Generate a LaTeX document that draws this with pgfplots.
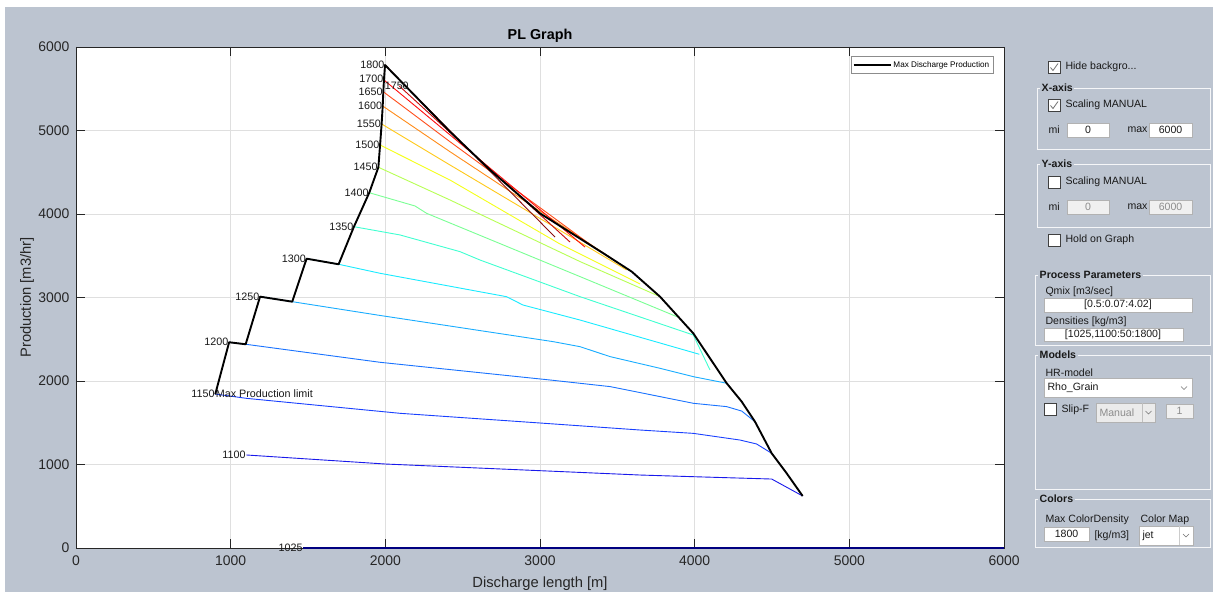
\documentclass[border=0pt]{standalone}
\usepackage{fontspec}
\setmainfont{Liberation Sans}
\usepackage{pgfplots}
\pgfplotsset{compat=1.18}

\definecolor{figbg}{RGB}{188,196,208}
\definecolor{axgray}{RGB}{38,38,38}
\definecolor{gridgray}{RGB}{223,223,223}
\definecolor{dimtext}{RGB}{140,140,140}
% jet colours, colour limits 1025..1800
\definecolor{c1025}{rgb}{0,0,0.5}
\definecolor{c1100}{rgb}{0.1,0.1,0.92}
\definecolor{c1150}{rgb}{0.1,0.25,1}
\definecolor{c1200}{rgb}{0.1,0.45,1}
\definecolor{c1250}{rgb}{0.1,0.68,1}
\definecolor{c1300}{rgb}{0.1,0.92,1}
\definecolor{c1350}{rgb}{0.25,1,0.82}
\definecolor{c1400}{rgb}{0.48,1,0.58}
\definecolor{c1450}{rgb}{0.72,1,0.33}
\definecolor{c1500}{rgb}{0.96,1,0.1}
\definecolor{c1550}{rgb}{1,0.79,0.1}
\definecolor{c1600}{rgb}{1,0.55,0.1}
\definecolor{c1650}{rgb}{1,0.3,0.1}
\definecolor{c1700}{rgb}{1,0.05,0.05}
\definecolor{c1750}{rgb}{0.78,0.05,0.05}
\definecolor{c1800}{rgb}{0.55,0.05,0.05}

\newcommand{\fs}[1]{\fontsize{#1}{#1}\selectfont}
\tikzset{lab/.style={font=\fs{10.8}, text=black!90, inner sep=0.5bp}}
% checkbox: x, y (top), checked?
\newcommand{\cbox}[3]{%
  \draw[fill=white, draw=black!75, line width=0.7bp] (#1,#2) rectangle ++(12,12);
  \ifnum#3=1 \draw[black!55, line width=0.8bp] (#1+2.5,#2+6.5) -- (#1+5,#2+9.5) -- (#1+10,#2+2.5);\fi}
% edit box: x1,y1,x2,y2,fill
\newcommand{\ebox}[5]{\draw[fill=#5, draw=black!30, line width=0.6bp] (#1,#2) rectangle (#3,#4);}
% panel frame with title
\newcommand{\panel}[5]{%
  \draw[white!85!figbg, line width=0.9bp] (#1,#2) rectangle (#3,#4);
  \node[anchor=west, fill=figbg, inner xsep=1.5bp, inner ysep=0bp, font=\bfseries\fs{10.6}] at (#1+3,#2) {#5};}
\newcommand{\chev}[2]{\draw[black!55, line width=0.6bp] (#1-3,#2-1.5) -- (#1,#2+1.5) -- (#1+3,#2-1.5);}

\begin{document}
\begin{tikzpicture}[x=1bp,y=-1bp]
\fill[white] (0,0) rectangle (1213,592);
\fill[figbg] (5,7) rectangle (1213,592);
\coordinate (O) at (76,548);
\begin{axis}[
  at={(O)}, anchor=south west,
  scale only axis, width=928bp, height=501bp,
  xmin=0, xmax=6000, ymin=0, ymax=6000,
  xtick={0,1000,...,6000}, ytick={0,1000,...,6000},
  tick align=inside, xtick pos=both, ytick pos=both,
  major tick length=9bp,
  grid=major, grid style={gridgray, line width=0.6bp},
  axis line style={axgray, line width=0.7bp},
  tick style={axgray, line width=0.7bp},
  axis background/.style={fill=white},
  ticklabel style={font=\fs{14}, text=axgray},
  xticklabel style={yshift=-4bp},
  yticklabel style={xshift=-3bp},
  /pgf/number format/assume math mode=true,
  /pgf/number format/set thousands separator={},
  title={\bfseries PL Graph},
  title style={font=\fs{14.4}, at={(axis description cs:0.5,1.010)}, anchor=center},
  xlabel={Discharge length [m]},
  ylabel={Production [m3/hr]},
  xlabel style={font=\fs{14.8}, text=axgray, at={(axis description cs:0.5,-0.072)}, anchor=center},
  ylabel style={font=\fs{14.8}, text=axgray, at={(axis description cs:-0.0528,0.5)}, anchor=center},
  legend style={at={(axis description cs:1,1)}, anchor=north east, xshift=-11bp, yshift=-9bp,
    font=\fs{8.2}, draw=black!45, fill=white, line width=0.5bp, inner xsep=1.5bp, inner ysep=3bp},
  legend cell align=left,
  legend image code/.code={\draw[#1] (0bp,0bp) -- (37bp,0bp);},
  clip=false,
]
\addplot[c1025, line width=1.4bp, forget plot] coordinates {(1470,0) (6000,0)};
\addplot[c1100, line width=0.9bp, forget plot] coordinates {
  (1101,1114) (1998,1006) (3000,926) (3647,874) (3991,854) (4498,826) (4698,623)};
\addplot[c1150, line width=0.9bp, forget plot] coordinates {
  (900,1844) (1103,1792) (2095,1613) (3000,1497) (3647,1413) (3991,1373) (4293,1293) (4400,1246) (4498,1134)};
\addplot[c1200, line width=0.9bp, forget plot] coordinates {
  (990,2464) (1097,2440) (1966,2224) (3065,2012) (3453,1933) (3650,1860) (3991,1733) (4207,1693) (4304,1640) (4390,1513)};
\addplot[c1250, line width=0.9bp, forget plot] coordinates {
  (1190,3010) (1398,2950) (1966,2785) (3086,2471) (3259,2411) (3453,2292) (3776,2152) (3991,2052) (4207,1973)};
\addplot[c1300, line width=0.9bp, forget plot] coordinates {
  (1491,3465) (1698,3398) (1966,3290) (2783,3010) (2890,2910) (3259,2730) (4030,2320)};
\addplot[c1350, line width=0.9bp, forget plot] coordinates {
  (1797,3848) (2095,3749) (2483,3549) (2612,3449) (3259,3010) (3991,2551) (4099,2132)};
\addplot[c1400, line width=0.9bp, forget plot] coordinates {
  (1896,4255) (2192,4096) (2267,4008) (3259,3250) (3884,2771)};
\addplot[c1450, line width=0.9bp, forget plot] coordinates {
  (1955,4560) (2418,4168) (3259,3430) (3776,3010)};
\addplot[c1500, line width=0.9bp, forget plot] coordinates {
  (1966,4826) (2418,4407) (3129,3641) (3647,3162)};
\addplot[c1550, line width=0.9bp, forget plot] coordinates {
  (1976,5078) (2418,4587) (3560,3330)};
\addplot[c1600, line width=0.9bp, forget plot] coordinates {
  (1983,5293) (2418,4746) (3470,3460)};
\addplot[c1650, line width=0.9bp, forget plot] coordinates {
  (1987,5464) (2418,4866) (3380,3560)};
\addplot[c1700, line width=0.9bp, forget plot] coordinates {
  (1991,5605) (3291,3604)};
\addplot[c1750, line width=0.9bp, forget plot] coordinates {
  (2090,5533) (3194,3664)};
\addplot[c1800, line width=0.9bp, forget plot] coordinates {
  (1998,5784) (3097,3724)};
\addplot[black, line width=1.9bp, line join=round] coordinates {
  (900,1840) (990,2464) (1097,2440) (1190,3010) (1398,2950) (1491,3465) (1698,3398)
  (1797,3848) (1896,4255) (1955,4560) (1966,4826) (1976,5078) (1983,5293) (1987,5464)
  (1991,5605) (1998,5784) (2418,4986) (2677,4527) (3000,4008) (3409,3530) (3593,3310)
  (3776,3010) (3991,2571) (4207,1973) (4304,1753) (4390,1513) (4498,1134) (4595,894) (4698,623)};
\addlegendentry{Max Discharge Production}
\node[lab, anchor=east] at (axis cs:1470,0) {1025};
\node[lab, anchor=east] at (axis cs:1101,1114) {1100};
\node[lab, anchor=east] at (axis cs:900,1844) {1150};
\node[lab, anchor=west] at (axis cs:900,1844) {Max Production limit};
\node[lab, anchor=east] at (axis cs:990,2464) {1200};
\node[lab, anchor=east] at (axis cs:1190,3010) {1250};
\node[lab, anchor=east] at (axis cs:1491,3465) {1300};
\node[lab, anchor=east] at (axis cs:1797,3848) {1350};
\node[lab, anchor=east] at (axis cs:1896,4255) {1400};
\node[lab, anchor=east] at (axis cs:1955,4560) {1450};
\node[lab, anchor=east] at (axis cs:1966,4826) {1500};
\node[lab, anchor=east] at (axis cs:1976,5078) {1550};
\node[lab, anchor=east] at (axis cs:1983,5293) {1600};
\node[lab, anchor=east] at (axis cs:1987,5464) {1650};
\node[lab, anchor=east] at (axis cs:1991,5620) {1700};
\node[lab, anchor=west] at (axis cs:1992,5533) {1750};
\node[lab, anchor=east] at (axis cs:1998,5784) {1800};
\end{axis}

% control panel
\begin{scope}[every node/.style={font=\fs{10.6}, text=black!90}]
\cbox{1048}{61}{1}
\node[anchor=west] at (1062,67) {Hide backgro...};
\panel{1037}{88}{1210}{149}{X-axis}
\cbox{1048}{99}{1}
\node[anchor=west] at (1062,105) {Scaling MANUAL};
\node[anchor=west] at (1045,130) {mi};
\ebox{1067}{123}{1109}{137}{white}
\node at (1088,130) {0};
\node[anchor=west] at (1124,130) {max};
\ebox{1149}{123}{1192}{137}{white}
\node at (1170.5,130) {6000};
\panel{1037}{164}{1210}{227}{Y-axis}
\cbox{1048}{176}{0}
\node[anchor=west] at (1062,182) {Scaling MANUAL};
\node[anchor=west] at (1045,207) {mi};
\ebox{1067}{200}{1109}{214}{black!6}
\node[text=dimtext] at (1088,207) {0};
\node[anchor=west] at (1124,207) {max};
\ebox{1149}{200}{1192}{214}{black!6}
\node[text=dimtext] at (1170.5,207) {6000};
\cbox{1048}{234}{0}
\node[anchor=west] at (1062,240) {Hold on Graph};
\panel{1035}{275}{1210}{345}{Process Parameters}
\node[anchor=west] at (1042,292) {Qmix [m3/sec]};
\ebox{1044}{298}{1192}{312}{white}
\node at (1118,305) {[0.5:0.07:4.02]};
\node[anchor=west] at (1042,322) {Densities [kg/m3]};
\ebox{1044}{328}{1183}{341}{white}
\node at (1113,334.5) {[1025,1100:50:1800]};
\panel{1035}{355}{1210}{489}{Models}
\node[anchor=west] at (1042,373) {HR-model};
\ebox{1044}{378}{1192}{397}{white}
\node[anchor=west] at (1044,388) {Rho\_Grain};
\chev{1184}{388}
\cbox{1044}{403}{0}
\node[anchor=west] at (1058,410) {Slip-F};
\ebox{1096}{403}{1155}{422}{black!8}
\draw[black!25, line width=0.5bp] (1142,403) -- (1142,422);
\node[anchor=west, text=dimtext] at (1096,412.5) {Manual};
\chev{1148.5}{412.5}
\ebox{1166}{404}{1193}{418}{black!6}
\node[text=dimtext] at (1179.5,411) {1};
\panel{1035}{499}{1210}{547}{Colors}
\node[anchor=west] at (1042,520) {Max ColorDensity};
\node[anchor=west] at (1137,520) {Color Map};
\ebox{1044}{527}{1089}{541}{white}
\node at (1066.5,534) {1800};
\node[anchor=west] at (1091,536) {[kg/m3]};
\ebox{1139}{526}{1193}{545}{white}
\draw[black!20, line width=0.5bp] (1179,526) -- (1179,545);
\node[anchor=west] at (1139,536) {jet};
\chev{1186}{535.5}
\end{scope}
\pgfresetboundingbox
\path[use as bounding box] (0,0) rectangle (1213,592);
\end{tikzpicture}
\end{document}
